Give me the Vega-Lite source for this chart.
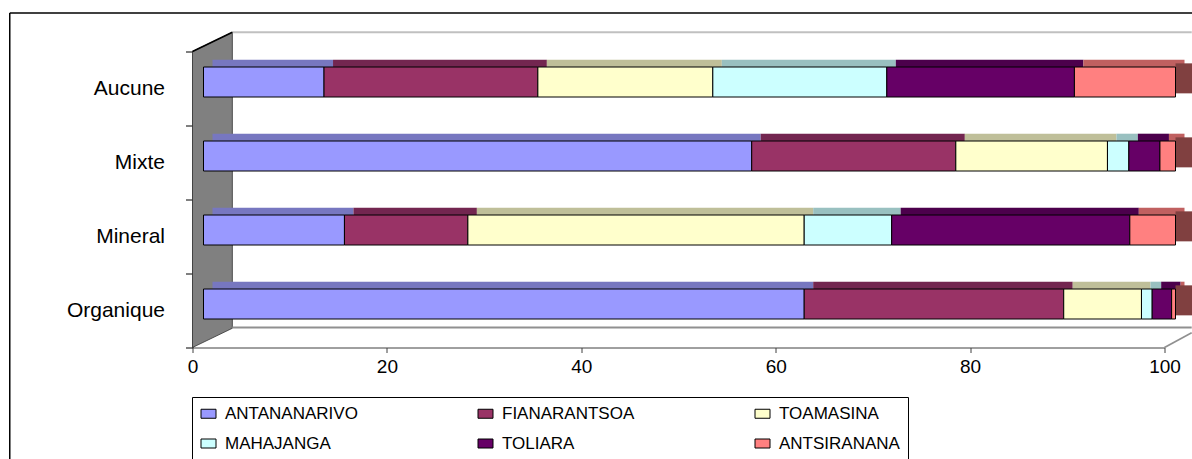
{
  "$schema": "https://vega.github.io/schema/vega-lite/v6.json",
  "width": 972,
  "height": 296,
  "autosize": {"type": "none"},
  "padding": {"left": 192.5, "top": 51.5, "right": 27.5, "bottom": 111.5},
  "background": "white",
  "config": {"view": {"stroke": null}, "font": "Liberation Sans"},
  "datasets": {
    "bars": [
      {"category": "Aucune", "region": "ANTANANARIVO", "k": 1, "value": 12.4},
      {"category": "Aucune", "region": "FIANARANTSOA", "k": 2, "value": 22.0},
      {"category": "Aucune", "region": "TOAMASINA", "k": 3, "value": 18.0},
      {"category": "Aucune", "region": "MAHAJANGA", "k": 4, "value": 17.9},
      {"category": "Aucune", "region": "TOLIARA", "k": 5, "value": 19.3},
      {"category": "Aucune", "region": "ANTSIRANANA", "k": 6, "value": 10.4},
      {"category": "Mixte", "region": "ANTANANARIVO", "k": 1, "value": 56.4},
      {"category": "Mixte", "region": "FIANARANTSOA", "k": 2, "value": 21.0},
      {"category": "Mixte", "region": "TOAMASINA", "k": 3, "value": 15.6},
      {"category": "Mixte", "region": "MAHAJANGA", "k": 4, "value": 2.2},
      {"category": "Mixte", "region": "TOLIARA", "k": 5, "value": 3.2},
      {"category": "Mixte", "region": "ANTSIRANANA", "k": 6, "value": 1.6},
      {"category": "Mineral", "region": "ANTANANARIVO", "k": 1, "value": 14.5},
      {"category": "Mineral", "region": "FIANARANTSOA", "k": 2, "value": 12.7},
      {"category": "Mineral", "region": "TOAMASINA", "k": 3, "value": 34.6},
      {"category": "Mineral", "region": "MAHAJANGA", "k": 4, "value": 9.0},
      {"category": "Mineral", "region": "TOLIARA", "k": 5, "value": 24.5},
      {"category": "Mineral", "region": "ANTSIRANANA", "k": 6, "value": 4.7},
      {"category": "Organique", "region": "ANTANANARIVO", "k": 1, "value": 61.8},
      {"category": "Organique", "region": "FIANARANTSOA", "k": 2, "value": 26.7},
      {"category": "Organique", "region": "TOAMASINA", "k": 3, "value": 8.0},
      {"category": "Organique", "region": "MAHAJANGA", "k": 4, "value": 1.1},
      {"category": "Organique", "region": "TOLIARA", "k": 5, "value": 2.0},
      {"category": "Organique", "region": "ANTSIRANANA", "k": 6, "value": 0.4}
    ],
    "wall": [
      {"wx": 0, "lo": 0, "hi": 4},
      {"wx": 4.1, "lo": 0.26, "hi": 4.26}
    ],
    "frame": [
      {"part": "backwall", "xa": 4.1, "xb": 102.8, "ya": 4.26, "yb": 4.26},
      {"part": "floor", "xa": 4.1, "xb": 102.8, "ya": 0.27, "yb": 0.27},
      {"part": "floor", "xa": 100, "xb": 102.8, "ya": 0, "yb": 0.2},
      {"part": "edge", "xa": 0, "xb": 4.1, "ya": 4, "yb": 4.26},
      {"part": "border", "xa": -18.8, "xb": 103.5, "ya": 4.52, "yb": 4.52},
      {"part": "border", "xa": -18.8, "xb": -18.8, "ya": 4.52, "yb": -1.6}
    ]
  },
  "layer": [
    {
      "layer": [
        {
          "data": {"name": "wall"},
          "mark": {"type": "area", "fill": "#808080", "stroke": "#333333", "strokeWidth": 0.8},
          "encoding": {
            "x": {"field": "wx", "type": "quantitative", "title": null, "scale": {"domain": [0, 100], "nice": false}},
            "y": {"field": "hi", "type": "quantitative", "scale": {"domain": [0, 4], "nice": false, "zero": false}, "axis": null},
            "y2": {"field": "lo"}
          }
        },
        {
          "data": {"name": "frame"},
          "mark": {"type": "rule"},
          "encoding": {
            "x": {"field": "xa", "type": "quantitative", "title": null, "scale": {"domain": [0, 100], "nice": false}},
            "x2": {"field": "xb"},
            "y": {"field": "ya", "type": "quantitative", "scale": {"domain": [0, 4], "nice": false, "zero": false}, "axis": null},
            "y2": {"field": "yb"},
            "color": {"field": "part", "type": "nominal", "legend": null,
              "scale": {"domain": ["backwall", "floor", "edge", "border"], "range": ["#C0C0C0", "#909090", "#000000", "#000000"]}},
            "strokeWidth": {"field": "part", "type": "nominal", "legend": null,
              "scale": {"domain": ["backwall", "floor", "edge", "border"], "range": [2, 1.5, 1, 1.5]}}
          }
        }
      ]
    },
    {
      "data": {"name": "bars"},
      "transform": [{"stack": "value", "groupby": ["category"], "sort": [{"field": "k"}], "as": ["v0", "v1"]}],
      "mark": {"type": "bar", "height": 7.3, "yOffset": -25.15, "xOffset": 20, "x2Offset": 20},
      "encoding": {
        "x": {"field": "v0", "type": "quantitative", "title": null, "scale": {"domain": [0, 100], "nice": false}},
        "x2": {"field": "v1"},
        "y": {"field": "category", "type": "nominal", "sort": ["Aucune", "Mixte", "Mineral", "Organique"], "scale": {"paddingInner": 0, "paddingOuter": 0}, "axis": null},
        "color": {"field": "region", "type": "nominal", "legend": null,
          "scale": {"domain": ["ANTANANARIVO", "FIANARANTSOA", "TOAMASINA", "MAHAJANGA", "TOLIARA", "ANTSIRANANA"],
                    "range": ["#7777C0", "#732650", "#BFBF99", "#99C0C0", "#4C004C", "#C06060"]}}
      }
    },
    {
      "data": {"name": "bars"},
      "transform": [
        {"stack": "value", "groupby": ["category"], "sort": [{"field": "k"}], "as": ["v0", "v1"]},
        {"filter": "datum.region === 'ANTSIRANANA'"}
      ],
      "mark": {"type": "bar", "height": 30, "yOffset": -10.15, "xOffset": 11, "x2Offset": 29, "color": "#804040"},
      "encoding": {
        "x": {"field": "v1", "type": "quantitative", "title": null, "scale": {"domain": [0, 100], "nice": false}},
        "x2": {"field": "v1"},
        "y": {"field": "category", "type": "nominal", "sort": ["Aucune", "Mixte", "Mineral", "Organique"], "scale": {"paddingInner": 0, "paddingOuter": 0}, "axis": null}
      }
    },
    {
      "data": {"name": "bars"},
      "transform": [{"stack": "value", "groupby": ["category"], "sort": [{"field": "k"}], "as": ["v0", "v1"]}],
      "mark": {"type": "bar", "height": 30, "yOffset": -6.5, "xOffset": 11, "x2Offset": 11, "stroke": "#000000", "strokeWidth": 1},
      "encoding": {
        "x": {"field": "v0", "type": "quantitative", "title": null, "scale": {"domain": [0, 100], "nice": false},
          "axis": {"title": null, "values": [0, 20, 40, 60, 80, 100], "grid": false, "domainColor": "#404040", "tickColor": "#404040",
                   "tickSize": 5, "labelFontSize": 19, "labelColor": "#000000", "labelFont": "Liberation Sans", "labelPadding": 5, "labelFlush": false}},
        "x2": {"field": "v1"},
        "y": {"field": "category", "type": "nominal", "sort": ["Aucune", "Mixte", "Mineral", "Organique"], "scale": {"paddingInner": 0, "paddingOuter": 0},
          "axis": {"title": null, "domainColor": "#000000", "tickColor": "#000000", "tickSize": 7, "tickBand": "extent",
                   "labelFontSize": 21, "labelColor": "#000000", "labelFont": "Liberation Sans", "labelPadding": 21}},
        "color": {"field": "region", "type": "nominal",
          "scale": {"domain": ["ANTANANARIVO", "FIANARANTSOA", "TOAMASINA", "MAHAJANGA", "TOLIARA", "ANTSIRANANA"],
                    "range": ["#9999FF", "#993366", "#FFFFCC", "#CCFFFF", "#660066", "#FF8080"]},
          "legend": {"orient": "none", "legendX": -0.5, "legendY": 345.5, "direction": "horizontal", "columns": 3, "title": null,
                     "symbolType": "M-1,-0.6H1V0.6H-1Z", "symbolSize": 225, "symbolStrokeColor": "#000000", "symbolStrokeWidth": 1,
                     "labelFont": "Liberation Sans", "labelFontSize": 17, "labelColor": "#000000", "labelOffset": 8, "labelLimit": 300,
                     "columnPadding": 118, "rowPadding": 12, "gridAlign": "all", "strokeColor": "#000000", "padding": 8, "symbolOpacity": 1}}
      }
    }
  ],
  "resolve": {"scale": {"y": "independent", "color": "independent", "strokeWidth": "independent"}}
}
